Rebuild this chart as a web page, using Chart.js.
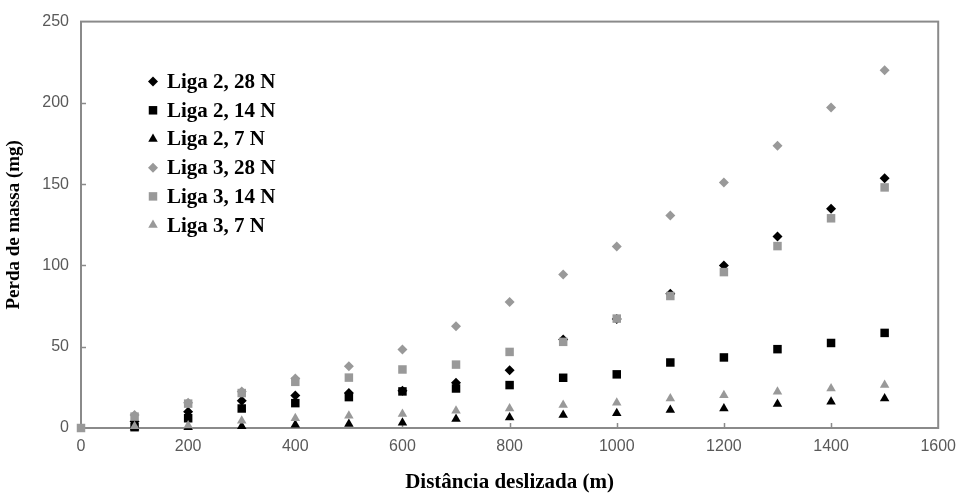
<!DOCTYPE html>
<html lang="pt">
<head>
<meta charset="utf-8">
<title>Perda de massa x distância deslizada</title>
<script src="https://cdn.jsdelivr.net/npm/chart.js@4/dist/chart.umd.min.js"></script>
<style>
    html, body { margin: 0; padding: 0; background: #fff; }
    #caixa { width: 965px; height: 495px; }
</style>
</head>
<body>
<div id="caixa"><canvas id="grafico"></canvas></div>
<script>
// distâncias (m) e perdas de massa (mg)
const distancias = [100, 200, 300, 400, 500, 600, 700, 800, 900, 1000, 1100, 1200, 1300, 1400, 1500];

const liga2_28N = [4, 10, 16.8, 20, 21.5, 22.9, 27.8, 35.6, 54.4, 67, 82.6, 100, 117.8, 134.8, 153.6];
const liga2_14N = [0.5, 6, 12, 15.3, 19, 22.5, 24.3, 26.4, 30.9, 33, 40.3, 43.4, 48.5, 52.3, 58.5];
const liga2_7N = [0.3, 0.5, 1, 2, 2.5, 3.3, 5.5, 6.5, 8, 9, 11, 12, 14.7, 16.2, 18.2];
const liga3_28N = [8, 15.5, 22.5, 30.5, 38, 48.3, 62.6, 77.5, 94.5, 111.7, 130.7, 151, 173.6, 197.1, 220];
const liga3_14N = [7, 15, 21.5, 28.4, 31, 36, 39, 46.8, 53, 67.3, 81.2, 95.9, 111.9, 129, 148];
const liga3_7N = [1, 1.5, 4.5, 6, 7.5, 8.6, 10.6, 12, 14.1, 15.5, 18.2, 20.2, 22.3, 24.3, 26.4];

const rotulos = ['Liga 2, 28 N', 'Liga 2, 14 N', 'Liga 2, 7 N', 'Liga 3, 28 N', 'Liga 3, 14 N', 'Liga 3, 7 N'];

const PRETO = '#000000';
const CINZA = '#999999';
const COR_EIXO = '#8a8a8a';

function pontos(valores, comZero) {
    const lista = distancias.map((d, i) => ({ x: d, y: valores[i] }));
    if (comZero) lista.unshift({ x: 0, y: 0 });
    return lista;
}

function serie(i, valores, cor, estilo, raio, comZero) {
    return {
        label: rotulos[i],
        data: pontos(valores, comZero),
        backgroundColor: cor,
        borderColor: cor,
        borderWidth: 0,
        pointStyle: estilo,
        pointRadius: raio,
        pointHoverRadius: raio,
        showLine: false,
        clip: false,
        order: 6 - i
    };
}

// moldura da área do gráfico e marcas de escala para dentro
const moldura = {
    id: 'moldura',
    beforeDatasetsDraw(chart) {
        const { ctx, chartArea: a, scales } = chart;
        ctx.save();
        ctx.strokeStyle = COR_EIXO;
        ctx.lineWidth = 2;
        ctx.strokeRect(a.left, a.top, a.right - a.left, a.bottom - a.top);
        ctx.lineWidth = 1.5;
        ctx.beginPath();
        scales.y.ticks.forEach(t => {
            if (t.value <= 0 || t.value >= 250) return;
            const y = Math.round(scales.y.getPixelForValue(t.value)) + 0.5;
            ctx.moveTo(a.left, y);
            ctx.lineTo(a.left + 5, y);
        });
        scales.x.ticks.forEach(t => {
            if (t.value <= 0 || t.value >= 1600) return;
            const x = Math.round(scales.x.getPixelForValue(t.value)) + 0.5;
            ctx.moveTo(x, a.bottom);
            ctx.lineTo(x, a.bottom - 5);
        });
        ctx.stroke();
        ctx.restore();
    }
};

// legenda dentro da área do gráfico
const legendaInterna = {
    id: 'legendaInterna',
    afterDatasetsDraw(chart) {
        const { ctx, chartArea: a } = chart;
        const x0 = a.left + 72;
        const y0 = a.top + 60;
        ctx.save();
        ctx.font = 'bold 21px "Liberation Serif", "Times New Roman", serif';
        ctx.textBaseline = 'middle';
        ctx.textAlign = 'left';
        chart.data.datasets.forEach((ds, i) => {
            const y = y0 + i * 28.7;
            ctx.fillStyle = ds.backgroundColor;
            ctx.strokeStyle = ds.borderColor;
            Chart.helpers.drawPoint(ctx, {
                pointStyle: ds.pointStyle,
                radius: ds.pointRadius,
                borderWidth: 0,
                rotation: 0
            }, x0, y);
            ctx.fillStyle = '#000';
            ctx.fillText(ds.label, x0 + 14, y + 1);
        });
        ctx.restore();
    }
};

const fonteTicks = { family: '"Liberation Sans", Arial, sans-serif', size: 16 };
const fonteTitulo = { family: '"Liberation Serif", "Times New Roman", serif', weight: 'bold' };

new Chart(document.getElementById('grafico').getContext('2d'), {
    type: 'scatter',
    data: {
        datasets: [
            serie(0, liga2_28N, PRETO, 'rectRot', 5, false),
            serie(1, liga2_14N, PRETO, 'rect', 6, false),
            serie(2, liga2_7N, PRETO, 'triangle', 5.5, false),
            serie(3, liga3_28N, CINZA, 'rectRot', 5, false),
            serie(4, liga3_14N, CINZA, 'rect', 6, true),
            serie(5, liga3_7N, CINZA, 'triangle', 5.5, false)
        ]
    },
    options: {
        responsive: true,
        maintainAspectRatio: false,
        animation: false,
        layout: {
            padding: { top: 21, right: 20, left: 0, bottom: 0 }
        },
        plugins: {
            legend: { display: false },
            tooltip: { enabled: false }
        },
        scales: {
            x: {
                type: 'linear',
                min: 0,
                max: 1600,
                border: { display: false },
                grid: { display: false, drawTicks: false },
                ticks: {
                    stepSize: 200,
                    padding: 9,
                    color: '#595959',
                    font: fonteTicks,
                    maxRotation: 0,
                    callback: function(valor) {
                        return String(valor);
                    }
                },
                title: {
                    display: true,
                    text: 'Distância deslizada (m)',
                    color: '#000',
                    font: Object.assign({ size: 21 }, fonteTitulo),
                    padding: { top: 0, bottom: 0 }
                },
                afterFit(escala) { escala.height = 67; }
            },
            y: {
                type: 'linear',
                min: 0,
                max: 250,
                border: { display: false },
                grid: { display: false, drawTicks: false },
                ticks: {
                    stepSize: 50,
                    padding: 12,
                    color: '#595959',
                    font: fonteTicks
                },
                title: {
                    display: true,
                    text: 'Perda de massa (mg)',
                    color: '#000',
                    font: Object.assign({ size: 19 }, fonteTitulo),
                    padding: { top: 3, bottom: 0 }
                },
                afterFit(escala) { escala.width = 81; }
            }
        }
    },
    plugins: [moldura, legendaInterna]
});
</script>
</body>
</html>
